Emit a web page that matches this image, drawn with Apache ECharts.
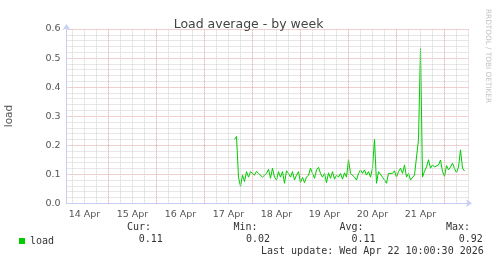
<!DOCTYPE html>
<html><head><meta charset="utf-8">
<script src="https://cdn.jsdelivr.net/npm/echarts@6/dist/echarts.min.js"></script>
<style>html,body{margin:0;padding:0;background:#fff}#c{width:497px;height:264px}</style>
</head><body><div id="c"></div>
<script>
const titleText = 'Load average - by week';
const yAxisName = 'load';
const seriesName = 'load';
const dayLabels = ['14 Apr','15 Apr','16 Apr','17 Apr','18 Apr','19 Apr','20 Apr','21 Apr'];
const yTicks = [0, 0.1, 0.2, 0.3, 0.4, 0.5, 0.6];
const axisStart = Date.UTC(2026, 3, 14, 3, 0);
const axisEnd = Date.UTC(2026, 3, 22, 12, 15);
const slotMinutes = 15;
const gridHours = 6;
const dataStart = Date.UTC(2026, 3, 17, 15, 0);
const dataStepMinutes = 60;
const loadValues = [
  0.22, 0.23, 0.09, 0.058, 0.097, 0.075, 0.109, 0.09, 0.109, 0.103,
  0.097, 0.11, 0.103, 0.107, 0.09, 0.086, 0.103, 0.117, 0.086, 0.121,
  0.09, 0.08, 0.109, 0.09, 0.109, 0.069, 0.112, 0.103, 0.09, 0.109,
  0.08, 0.097, 0.109, 0.071, 0.089, 0.071, 0.09, 0.097, 0.121, 0.103,
  0.086, 0.115, 0.124, 0.103, 0.09, 0.103, 0.071, 0.105, 0.086, 0.109,
  0.083, 0.097, 0.09, 0.103, 0.083, 0.105, 0.09, 0.15, 0.103, 0.097,
  0.09, 0.08, 0.103, 0.115, 0.103, 0.115, 0.097, 0.109, 0.09, 0.121,
  0.22, 0.069, 0.109, 0.103, 0.09, 0.08, 0.069, 0.103, 0.109, 0.103,
  0.112, 0.09, 0.109, 0.121, 0.103, 0.132, 0.09, 0.103, 0.08, 0.075,
  0.097, 0.10, 0.22, 0.535, 0.09, 0.11, 0.125, 0.15, 0.121, 0.132,
  0.125, 0.12, 0.132, 0.149, 0.11, 0.092, 0.13, 0.115, 0.125, 0.138,
  0.12, 0.105, 0.125, 0.184, 0.121, 0.111
];
const statHeaders = ['Cur:', 'Min:', 'Avg:', 'Max:'];
const statValues = ['0.11', '0.02', '0.11', '0.92'];
const lastUpdate = 'Last update: Wed Apr 22 10:00:30 2026';
const watermark = 'RRDTOOL / TOBI OETIKER';

const HOUR = 3600000;
const slotCats = [];
for (let t = axisStart; t <= axisEnd; t += slotMinutes * 60000) slotCats.push(String(t));
const seriesData = loadValues.map((v, i) => [dataStart + i * dataStepMinutes * 60000, v]);

const MONO = "'DejaVu Sans Mono', monospace";
const SANS = "'DejaVu Sans', sans-serif";
const axisColor = '#c8cff5';
const minorColor = '#cfcfcf';
const majorColor = '#e0a0a0';

// vertical grid (every 6 h, red at midnight) placed through the time axis
const minorLines = [], majorLines = [];
for (let t = Math.ceil(axisStart / (gridHours * HOUR)) * gridHours * HOUR; t < axisEnd; t += gridHours * HOUR) {
  if (new Date(t).getUTCHours() === 0) majorLines.push({xAxis: t});
  else minorLines.push({xAxis: t});
}
const dotted = (c) => ({color: c, width: 1, type: [1, 1], opacity: 1});
const slotsPerDay = 24 * 60 / slotMinutes;
const noonSlot = ((12 - new Date(axisStart).getUTCHours()) * 60 - new Date(axisStart).getUTCMinutes()) / slotMinutes;

const headerX = [127, 233.4, 339.4, 446];
const valueX = [138.7, 246, 351.4, 458.7];
const graphics = [];
statHeaders.forEach((h, i) => graphics.push({type: 'text', x: headerX[i], y: 227.7,
  style: {text: h, font: '10px ' + MONO, fill: '#333', align: 'left', verticalAlign: 'middle'}}));
statValues.forEach((v, i) => graphics.push({type: 'text', x: valueX[i], y: 239.3,
  style: {text: v, font: '10px ' + MONO, fill: '#333', align: 'left', verticalAlign: 'middle'}}));
graphics.push({type: 'text', x: 261, y: 251.7,
  style: {text: lastUpdate, font: '10px ' + MONO, fill: '#333', align: 'left', verticalAlign: 'middle'}});
graphics.push({type: 'text', x: 9, y: 116, rotation: Math.PI / 2,
  style: {text: yAxisName, font: '10.5px ' + SANS, fill: '#555', align: 'center', verticalAlign: 'middle'}});
graphics.push({type: 'text', x: 487.5, y: 56, rotation: -Math.PI / 2,
  style: {text: watermark, font: '7.3px ' + SANS, fill: '#c4c4c4', align: 'center', verticalAlign: 'middle'}});

const chart = echarts.init(document.getElementById('c'), null, {renderer: 'canvas'});
chart.setOption({
  animation: false,
  backgroundColor: '#fff',
  title: {text: titleText, left: 'center', top: 12,
    textStyle: {fontFamily: SANS, fontSize: 12.5, fontWeight: 'normal', color: '#444', lineHeight: 15}},
  legend: {left: 14, top: 230, icon: 'rect', itemWidth: 6, itemHeight: 6,
    textStyle: {fontFamily: MONO, fontSize: 10, color: '#333', lineHeight: 12},
    data: [seriesName]},
  grid: {left: 66.5, right: 28, top: 29, height: 174.3, containLabel: false},
  xAxis: [
    {type: 'time', min: axisStart, max: axisEnd, show: false},
    {type: 'category', data: slotCats, boundaryGap: false, position: 'bottom',
      axisLine: {show: true, lineStyle: {color: axisColor, width: 1},
        symbol: ['none', 'arrow'], symbolSize: [6, 6], symbolOffset: [0, 3]},
      axisTick: {show: false},
      axisLabel: {show: true, interval: (idx) => idx % slotsPerDay === noonSlot,
        formatter: (val, idx) => dayLabels[Math.round((idx - noonSlot) / slotsPerDay)] || '',
        fontFamily: SANS, fontSize: 9.5, color: '#555', margin: 6},
      splitLine: {show: false}}
  ],
  yAxis: {type: 'value', min: yTicks[0], max: yTicks[yTicks.length - 1], interval: 0.1,
    axisLine: {show: true, lineStyle: {color: axisColor, width: 1},
      symbol: ['none', 'arrow'], symbolSize: [6, 6], symbolOffset: [0, 5]},
    axisTick: {show: false},
    axisLabel: {formatter: (v) => v.toFixed(1), fontFamily: SANS, fontSize: 9.5, color: '#555', margin: 6},
    splitLine: {show: true, lineStyle: dotted(majorColor)},
    minorTick: {show: false, splitNumber: 5},
    minorSplitLine: {show: true, lineStyle: dotted(minorColor)}},
  series: [
    {type: 'line', xAxisIndex: 0, z: 1, data: seriesData, silent: true,
      symbol: 'none', lineStyle: {opacity: 0, width: 0},
      markLine: {silent: true, symbol: 'none', animation: false, label: {show: false},
        emphasis: {disabled: true},
        data: minorLines.map(d => Object.assign({lineStyle: dotted(minorColor)}, d))
          .concat(majorLines.map(d => Object.assign({lineStyle: dotted(majorColor)}, d)))}},
    {name: seriesName, type: 'line', xAxisIndex: 0, z: 3, data: seriesData,
      showSymbol: false, symbol: 'none', color: '#00cc00',
      lineStyle: {color: '#00cc00', width: 1}}
  ],
  graphic: graphics
});
</script></body></html>
